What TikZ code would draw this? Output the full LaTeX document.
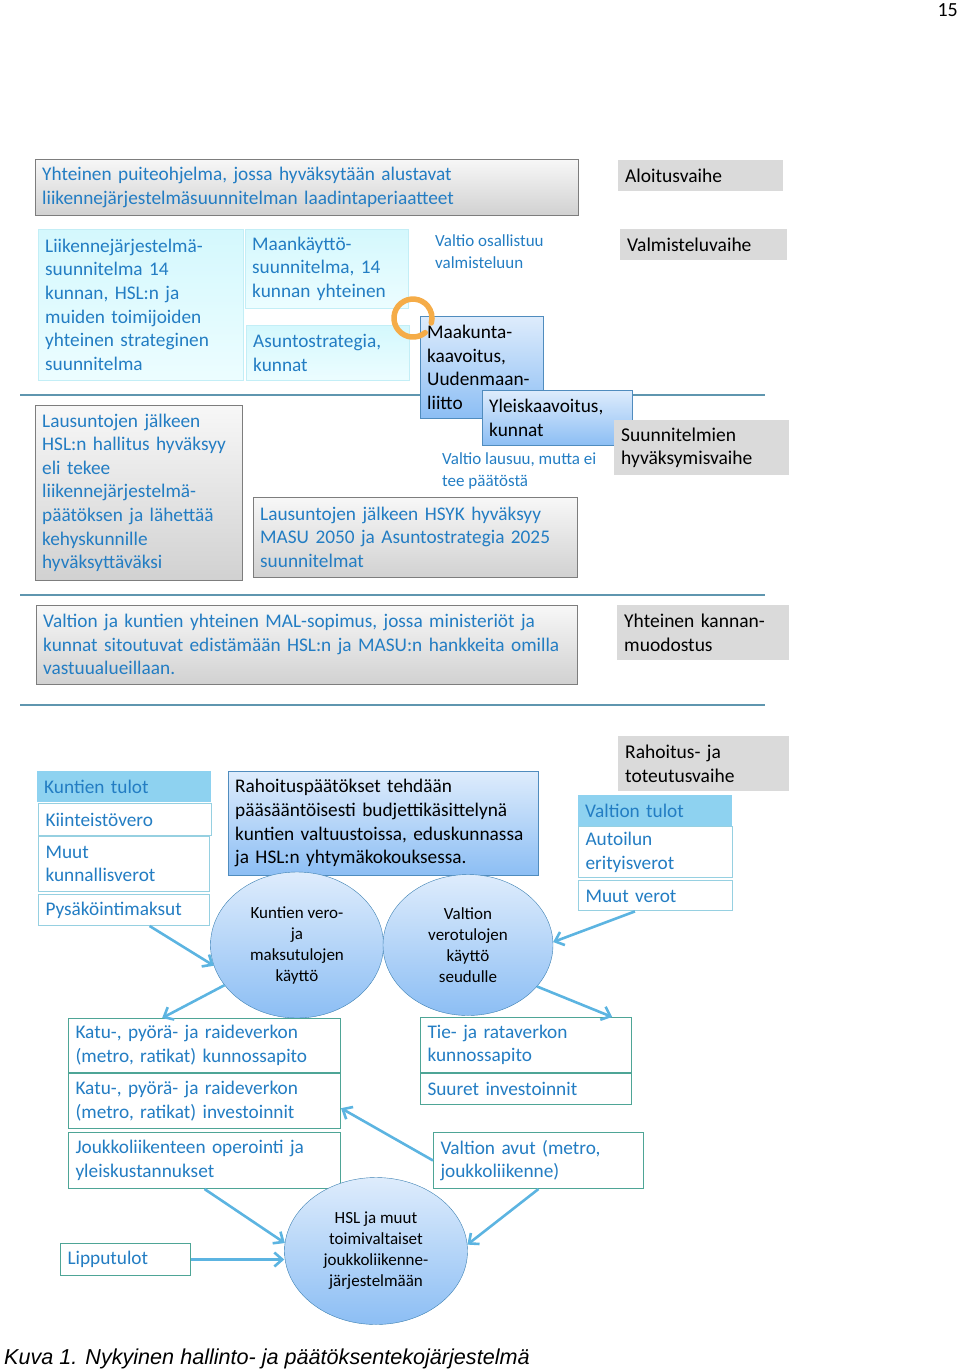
\documentclass[tikz,border=0pt]{standalone}
\usepackage{fontspec}
\setmainfont{Carlito}
\newfontfamily\capfont{Liberation Sans}
\usepackage{tikz}
\usetikzlibrary{shapes.geometric, arrows.meta, positioning}

\definecolor{txtblue}{RGB}{35,125,195}
\definecolor{boxgray}{RGB}{125,125,125}
\definecolor{phasegray}{RGB}{218,218,218}
\definecolor{cyanline}{RGB}{195,238,246}
\definecolor{cyantop}{RGB}{212,248,253}
\definecolor{cyanbot}{RGB}{236,253,255}
\definecolor{blueline}{RGB}{80,140,190}
\definecolor{bluetop}{RGB}{222,236,252}
\definecolor{bluebot}{RGB}{140,190,244}
\definecolor{headfill}{RGB}{142,210,240}
\definecolor{cellline}{RGB}{150,208,225}
\definecolor{greenline}{RGB}{78,165,150}
\definecolor{poolline}{RGB}{60,128,178}
\definecolor{arrowblue}{RGB}{92,180,225}
\definecolor{sepblue}{RGB}{95,150,175}
\definecolor{loopor}{RGB}{245,172,72}

\tikzset{
  box/.style={anchor=north west, align=left, inner xsep=7pt, inner ysep=3pt,
    font=\fontsize{19.3}{23.6}\selectfont},
  graybox/.style={box, draw=boxgray, top color=gray!6, bottom color=gray!36, text=txtblue},
  phase/.style={box, fill=phasegray, text=black, font=\fontsize{19.5}{23.6}\selectfont},
  cyanbox/.style={box, draw=cyanline, top color=cyantop, bottom color=cyanbot, text=txtblue},
  bluebox/.style={box, draw=blueline, top color=bluetop, bottom color=bluebot, text=black},
  headcell/.style={box, fill=headfill, text=txtblue},
  cell/.style={box, draw=cellline, fill=white, text=txtblue, line width=1pt},
  greencell/.style={box, draw=greenline, fill=white, text=txtblue, line width=1pt},
  note/.style={anchor=north west, align=left, inner sep=0pt, text=txtblue,
    font=\fontsize{17}{22}\selectfont},
  pool/.style={ellipse, draw=poolline, top color=bluetop, bottom color=bluebot,
    align=center, inner sep=0pt, font=\fontsize{17}{21}\selectfont},
  flow/.style={-{Straight Barb[length=8pt,width=14pt]}, line width=2.6pt, draw=arrowblue},
  sepline/.style={draw=sepblue, line width=1.2pt}
}

\begin{document}
\begin{tikzpicture}[x=1pt, y=-1pt]
\useasboundingbox (0,0) rectangle (960,1371);

% vaiheiden erottimet
\draw [sepline] (20,395) -- (765,395);
\draw [sepline] (20,595) -- (765,595);
\draw [sepline] (20,705) -- (765,705);

\node (sivu) [anchor=north east, inner sep=0pt, font=\fontsize{20}{22}\selectfont] at (958,3) {15};

% suunnittelu
\node (puite) [graybox, text width=529pt, minimum height=56pt] at (35,159)
  {Yhteinen puiteohjelma, jossa hyväksytään alustavat\\liikennejärjestelmäsuunnitelman laadintaperiaatteet};
\node (lijs) [cyanbox, text width=191pt, minimum height=151pt] at (38,229)
  {Liikennejärjestelmä-\\suunnitelma 14\\kunnan, HSL:n ja\\muiden toimijoiden\\yhteinen strateginen\\suunnitelma};
\node (masu) [cyanbox, text width=149pt, minimum height=79pt] at (245,229)
  {Maankäyttö-\\suunnitelma, 14\\kunnan yhteinen};
\node (asunto) [cyanbox, text width=149pt, minimum height=55pt] at (246,325)
  {Asuntostrategia,\\kunnat};
\node (osall) [note] at (435,234) {Valtio osallistuu\\valmisteluun};
\node (maak) [bluebox, text width=109pt, minimum height=102pt] at (420,316)
  {Maakunta-\\kaavoitus,\\Uudenmaan-\\liitto};
\draw [loopor, line width=5.5pt, line cap=round]
  (425.2,332.6) arc[start angle=50, end angle=375, radius=19];
\node (yleis) [bluebox, text width=136pt, minimum height=55pt] at (482,390)
  {Yleiskaavoitus,\\kunnat};
\node (lausu) [note] at (442,452) {Valtio lausuu, mutta ei\\tee päätöstä};
\node (hslhyv) [graybox, text width=193pt, minimum height=175pt] at (35,405)
  {Lausuntojen jälkeen\\HSL:n hallitus hyväksyy\\eli tekee\\liikennejärjestelmä-\\päätöksen ja lähettää\\kehyskunnille\\hyväksyttäväksi};
\node (hsyk) [graybox, text width=310pt, minimum height=80pt] at (253,497)
  {Lausuntojen jälkeen HSYK hyväksyy\\MASU 2050 ja Asuntostrategia 2025\\suunnitelmat};
\node (mal) [graybox, text width=527pt, minimum height=79pt] at (36,605)
  {Valtion ja kuntien yhteinen MAL-sopimus, jossa ministeriöt ja\\kunnat sitoutuvat edistämään HSL:n ja MASU:n hankkeita omilla\\vastuualueillaan.};

% vaiheet
\node (aloitus) [phase, text width=151pt, minimum height=31pt] at (618,160) {Aloitusvaihe};
\node (valmist) [phase, text width=153pt, minimum height=31pt] at (620,229) {Valmisteluvaihe};
\node (hyvaks)  [phase, text width=161pt, minimum height=55pt] at (614,420) {Suunnitelmien\\hyväksymisvaihe};
\node (kannan)  [phase, text width=158pt, minimum height=55pt] at (617,605) {Yhteinen kannan-\\muodostus};
\node (toteut)  [phase, text width=157pt, minimum height=55pt] at (618,736) {Rahoitus- ja\\toteutusvaihe};

% rahoitus
\node (kunttulot) [headcell, text width=160pt, minimum height=31pt] at (37,771) {Kuntien tulot};
\node (kiint) [cell, text width=159pt, minimum height=32pt] at (38,803) {Kiinteistövero};
\node (muutkunn) [cell, text width=157pt, minimum height=55pt, below=0pt of kiint.south west, anchor=north west]
  {Muut\\kunnallisverot};
\node (pysak) [cell, text width=157pt, minimum height=31pt, below=2pt of muutkunn.south west, anchor=north west]
  {Pysäköintimaksut};
\node (rahp) [bluebox, text width=296pt, minimum height=104pt] at (228,771)
  {Rahoituspäätökset tehdään\\pääsääntöisesti budjettikäsittelynä\\kuntien valtuustoissa, eduskunnassa\\ja HSL:n yhtymäkokouksessa.};
\node (valttulot) [headcell, text width=140pt, minimum height=31pt] at (578,795) {Valtion tulot};
\node (autoil) [cell, text width=140pt, minimum height=51pt, below=0pt of valttulot.south west, anchor=north west]
  {Autoilun\\erityisverot};
\node (muutvero) [cell, text width=140pt, minimum height=30pt, below=2pt of autoil.south west, anchor=north west]
  {Muut verot};
\node (kve) [pool, minimum width=173pt, minimum height=146pt] at (297,945)
  {Kuntien vero-\\ja\\maksutulojen\\käyttö};
\node (vve) [pool, minimum width=170pt, minimum height=141pt] at (468,945)
  {Valtion\\verotulojen\\käyttö\\seudulle};

% kohteet
\node (katu1) [greencell, text width=258pt, minimum height=54pt] at (68,1018)
  {Katu-, pyörä- ja raideverkon\\(metro, ratikat) kunnossapito};
\node (katu2) [greencell, text width=258pt, minimum height=55pt, below=0pt of katu1.south west, anchor=north west]
  {Katu-, pyörä- ja raideverkon\\(metro, ratikat) investoinnit};
\node (jl) [greencell, text width=258pt, minimum height=56pt] at (68,1132)
  {Joukkoliikenteen operointi ja\\yleiskustannukset};
\node (tie) [greencell, text width=197pt, minimum height=55pt] at (420,1017)
  {Tie- ja rataverkon\\kunnossapito};
\node (suuret) [greencell, text width=197pt, minimum height=31pt, below=0pt of tie.south west, anchor=north west]
  {Suuret investoinnit};
\node (avut) [greencell, text width=196pt, minimum height=56pt] at (433,1132)
  {Valtion avut (metro,\\joukkoliikenne)};
\node (lippu) [greencell, text width=116pt, minimum height=32pt] at (60,1243) {Lipputulot};
\node (hsl) [pool, minimum width=183pt, minimum height=147pt] at (376,1251)
  {HSL ja muut\\toimivaltaiset\\joukkoliikenne-\\järjestelmään};

\draw [flow] (pysak.-32)    -- (kve.194);
\draw [flow] (muutvero.217) -- (vve.2);
\draw [flow] (kve.209)      -- (katu1.147);
\draw [flow] (vve.-31)      -- (tie.18);
\draw [flow] (avut.west)    -- (katu2.-3);
\draw [flow] (jl.south)     -- (hsl.175);
\draw [flow] (lippu.east)   -- (lippu.east -| hsl.west);
\draw [flow] (avut.south)   -- (hsl.4);

\node (kuva) [anchor=base west, inner sep=0pt, font=\capfont\itshape\fontsize{21.6}{24}\selectfont] at (4,1364)
  {Kuva 1. Nykyinen hallinto- ja päätöksentekojärjestelmä};
\end{tikzpicture}
\end{document}
